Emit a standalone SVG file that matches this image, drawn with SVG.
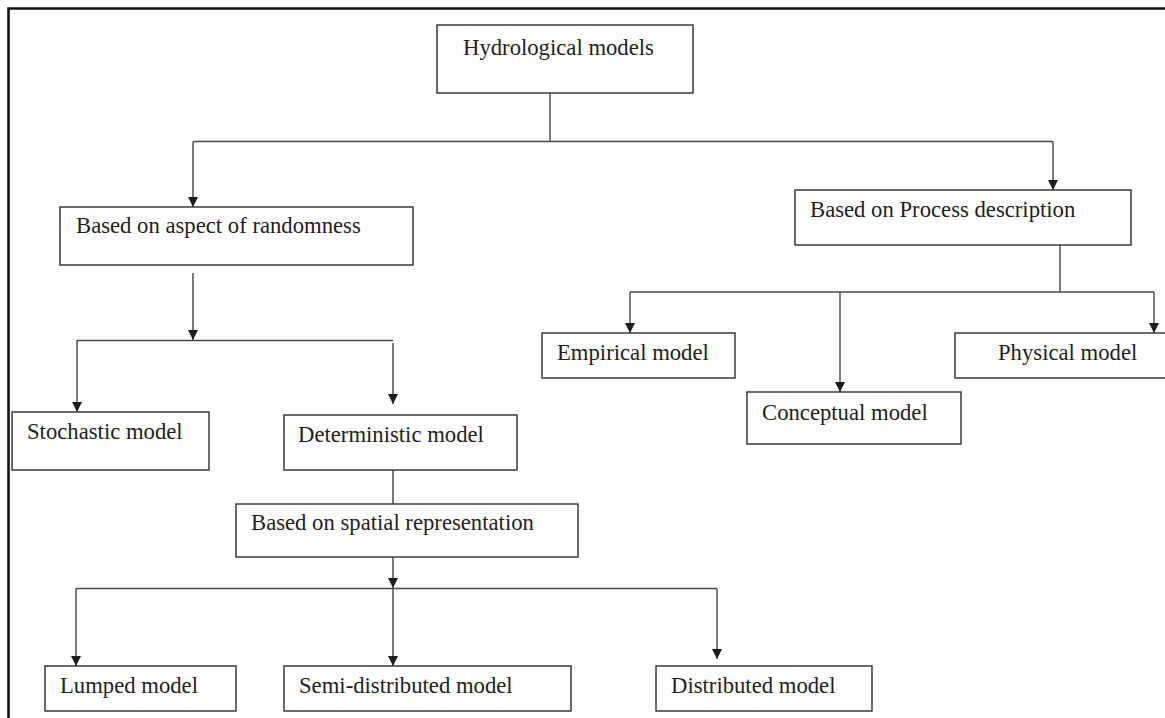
<svg xmlns="http://www.w3.org/2000/svg" width="1165" height="718" viewBox="0 0 1165 718">
  <style>
    .box { fill: #ffffff; stroke: #2e2e2e; stroke-width: 1.4; }
    .lbl { font-family: "Liberation Serif", "Times New Roman", serif; font-size: 22.7px; fill: #1e1e1e; }
    .wire { fill: none; stroke: #474747; stroke-width: 1.4; }
    .arrow { marker-end: url(#head); }
  </style>
  <defs>
    <marker id="head" viewBox="0 0 10 10" refX="10" refY="5" markerWidth="10" markerHeight="10" markerUnits="userSpaceOnUse" orient="auto">
      <path d="M0,0 L10,5 L0,10 Z" fill="#1e1e1e"/>
    </marker>
  </defs>

  <rect width="1165" height="718" fill="#ffffff"/>
  <!-- outer frame (top and left edges visible) -->
  <path d="M8.5,730 L8.5,8.5 L1180,8.5" fill="none" stroke="#111" stroke-width="2.6"/>

  <g id="connectors">
    <!-- root split -->
    <path class="wire" d="M550,93 V141.5"/>
    <path class="wire" d="M193,141.5 H1053"/>
    <path class="wire arrow" d="M193,141.5 V207"/>
    <path class="wire arrow" d="M1053,141.5 V190"/>
    <!-- randomness branch -->
    <path class="wire arrow" d="M193,273 V340"/>
    <path class="wire" d="M77,340.5 H393"/>
    <path class="wire arrow" d="M77,340.5 V412"/>
    <path class="wire arrow" d="M393,343 V404"/>
    <!-- deterministic to spatial -->
    <path class="wire" d="M393,470 V504"/>
    <!-- spatial branch -->
    <path class="wire arrow" d="M393,557 V588"/>
    <path class="wire" d="M76,588.5 H717"/>
    <path class="wire arrow" d="M76,588.5 V666"/>
    <path class="wire arrow" d="M393,588.5 V666"/>
    <path class="wire arrow" d="M717,588.5 V659"/>
    <!-- process description branch -->
    <path class="wire" d="M1060,245 V292"/>
    <path class="wire" d="M630,292 H1154"/>
    <path class="wire arrow" d="M630,292 V333"/>
    <path class="wire arrow" d="M840,292 V392"/>
    <path class="wire arrow" d="M1154,292 V333"/>
  </g>

  <g id="hydrological-models">
    <rect class="box" x="437" y="25" width="256" height="68"/>
    <text class="lbl" x="463" y="55">Hydrological models</text>
  </g>
  <g id="randomness">
    <rect class="box" x="60" y="207" width="353" height="58"/>
    <text class="lbl" x="76" y="233">Based on aspect of randomness</text>
  </g>
  <g id="process-description">
    <rect class="box" x="795" y="190" width="336" height="55"/>
    <text class="lbl" x="810" y="217">Based on Process description</text>
  </g>
  <g id="stochastic">
    <rect class="box" x="12" y="412" width="197" height="58"/>
    <text class="lbl" x="27" y="439">Stochastic model</text>
  </g>
  <g id="deterministic">
    <rect class="box" x="284" y="415" width="233" height="55"/>
    <text class="lbl" x="298" y="442">Deterministic model</text>
  </g>
  <g id="spatial">
    <rect class="box" x="236" y="504" width="342" height="53"/>
    <text class="lbl" x="251" y="530">Based on spatial representation</text>
  </g>
  <g id="lumped">
    <rect class="box" x="45" y="666" width="191" height="45"/>
    <text class="lbl" x="60" y="693">Lumped model</text>
  </g>
  <g id="semi-distributed">
    <rect class="box" x="284" y="666" width="287" height="45"/>
    <text class="lbl" x="299" y="693">Semi-distributed model</text>
  </g>
  <g id="distributed">
    <rect class="box" x="656" y="666" width="216" height="45"/>
    <text class="lbl" x="671" y="693">Distributed model</text>
  </g>
  <g id="empirical">
    <rect class="box" x="542" y="333" width="193" height="45"/>
    <text class="lbl" x="557" y="360">Empirical model</text>
  </g>
  <g id="conceptual">
    <rect class="box" x="747" y="392" width="214" height="52"/>
    <text class="lbl" x="762" y="420">Conceptual model</text>
  </g>
  <g id="physical">
    <rect class="box" x="955" y="333" width="230" height="45"/>
    <text class="lbl" x="998" y="360">Physical model</text>
  </g>
</svg>
